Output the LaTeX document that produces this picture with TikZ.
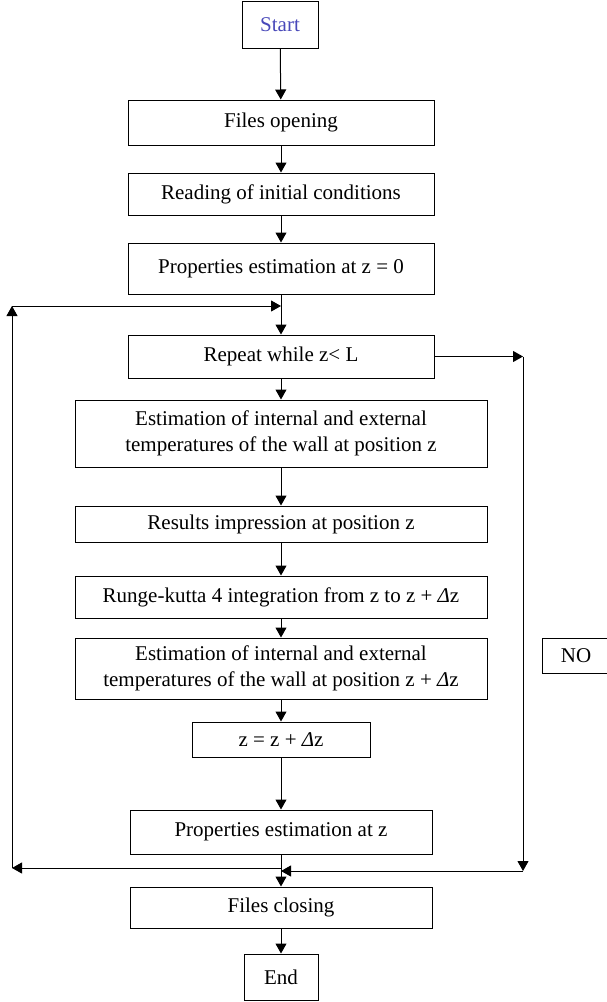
\documentclass[tikz,border=0pt]{standalone}
\usepackage{fontspec}
\setmainfont{Liberation Serif}
\usetikzlibrary{arrows.meta}
\definecolor{startblue}{RGB}{72,72,185}
\tikzset{
  box/.style={draw, line width=1pt, align=center, inner sep=0pt, font=\fontsize{21}{26}\selectfont},
  conn/.style={line width=1pt, -{Triangle[length=10pt,width=11pt]}},
  plain/.style={line width=1pt}
}
\begin{document}
\begin{tikzpicture}[x=1pt,y=-1pt]
\useasboundingbox (0,0) rectangle (607,1002);
\node[box, minimum width=76pt, minimum height=47pt, text=startblue] (start) at (280,24.5) {Start};
\node[box, minimum width=306pt, minimum height=45pt] (open) at (281,122.5) {Files opening};
\node[box, minimum width=306pt, minimum height=42pt] (read) at (281,194) {Reading of initial conditions};
\node[box, minimum width=306pt, minimum height=51pt] (prop0) at (281,268.5) {Properties estimation at z = 0};
\node[box, minimum width=306pt, minimum height=43pt] (rep) at (281,356.5) {Repeat while z\textless{} L};
\node[box, minimum width=412pt, minimum height=67pt] (est1) at (281,433.5) {Estimation of internal and external\\temperatures of the wall at position z};
\node[box, minimum width=412pt, minimum height=36pt] (res) at (281,524) {Results impression at position z};
\node[box, minimum width=412pt, minimum height=42pt] (rk) at (281,597) {Runge-kutta 4 integration from z to z + \textit{Δ}z};
\node[box, minimum width=412pt, minimum height=61pt] (est2) at (281,668.5) {Estimation of internal and external\\temperatures of the wall at position z + \textit{Δ}z};
\node[box, minimum width=178pt, minimum height=35pt] (zinc) at (281,739.5) {z = z + \textit{Δ}z};
\node[box, minimum width=302pt, minimum height=44pt] (propz) at (281,832) {Properties estimation at z};
\node[box, minimum width=302pt, minimum height=41pt] (close) at (281,907.5) {Files closing};
\node[box, minimum width=74pt, minimum height=46pt] (end) at (281,977) {End};
\node[box, minimum width=68pt, minimum height=35pt] (no) at (576,655.5) {NO};
% loop coordinates
\coordinate (jl) at (281,868);
\coordinate (bl) at (12,868);
\coordinate (tl) at (12,306);
\coordinate (tm) at (281,306);
\coordinate (rt) at (523,356.5);
\coordinate (rb) at (523,871);
\coordinate (jr) at (281,871);
% main flow
\draw[conn] (start) -- (open);
\draw[conn] (open) -- (read);
\draw[conn] (read) -- (prop0);
\draw[conn] (prop0) -- (rep);
\draw[conn] (rep) -- (est1);
\draw[conn] (est1) -- (res);
\draw[conn] (res) -- (rk);
\draw[conn] (rk) -- (est2);
\draw[conn] (est2) -- (zinc);
\draw[conn] (zinc) -- (propz);
\draw[conn] (propz) -- (close);
\draw[conn] (close) -- (end);
% back loop on the left
\draw[conn] (jl) -- (bl);
\draw[conn] (bl) -- (tl);
\draw[conn] (tl) -- (tm);
% exit path on the right
\draw[conn] (rep.east) -- (rt);
\draw[conn] (rt) -- (rb);
\draw[conn] (rb) -- (jr);
\end{tikzpicture}
\end{document}
